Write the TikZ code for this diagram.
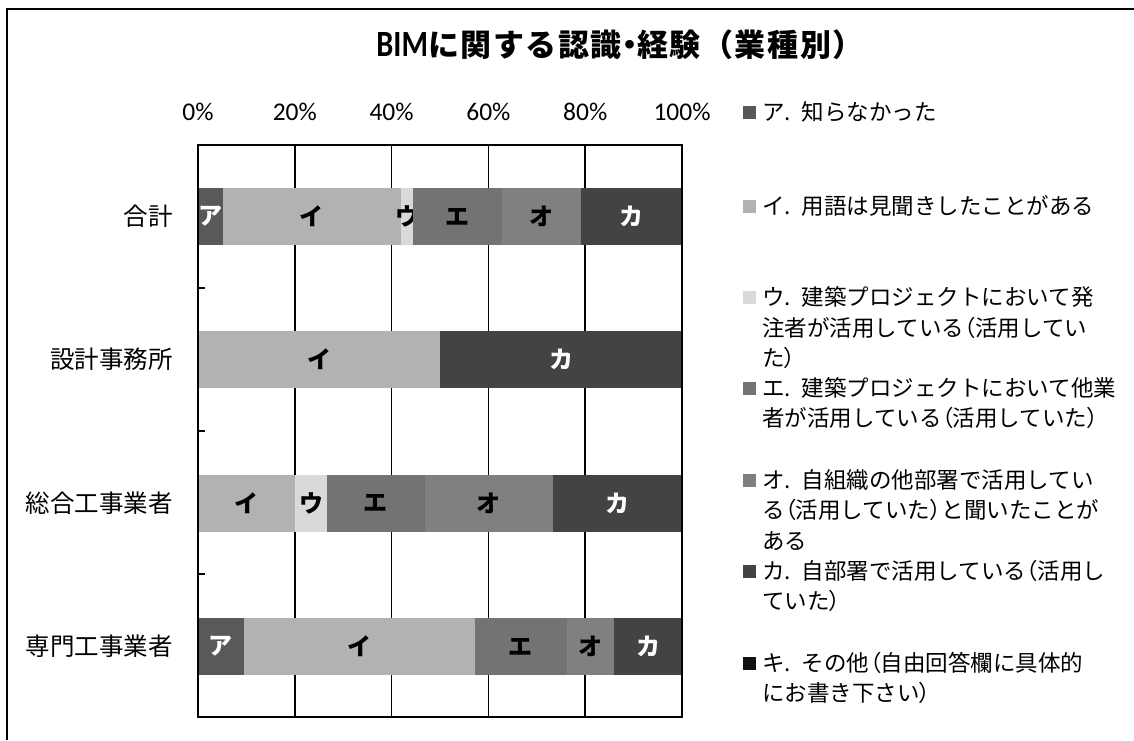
\documentclass[tikz,border=0pt]{standalone}
\usepackage{fontspec}
\newfontfamily\jp{Noto Sans CJK JP}
\newfontfamily\jpt[LetterSpace=5]{Noto Sans CJK JP}
\newfontfamily\jpp[RawFeature=+palt]{Noto Sans CJK JP}
\newfontfamily\carl{Carlito}
\newcommand\lp{{\jpp （}}
\newcommand\rp{{\jpp ）}}
\definecolor{cA}{HTML}{595959}
\definecolor{cI}{HTML}{B2B2B2}
\definecolor{cU}{HTML}{D9D9D9}
\definecolor{cE}{HTML}{737373}
\definecolor{cO}{HTML}{808080}
\definecolor{cK}{HTML}{434343}
\definecolor{cKi}{HTML}{111111}
% \barseg{ycenter}{p0}{p1}{fill}{label}{textcolor}{name}
\newcommand\barseg[7]{%
  \fill[#4] ({198+4.84*#2},{#1-28.5}) rectangle ({198+4.84*#3},{#1+28.5});
  \node[lbl,text=#6] (#7) at ({198+4.84*(#2+#3)/2},#1) {#5};}
\begin{document}
\begin{tikzpicture}[x=1pt,y=-1pt,
  lbl/.style={font=\jp\bfseries\fontsize{24}{24}\selectfont, inner sep=0pt},
  cat/.style={anchor=east, font=\jp\fontsize{24.5}{24.5}\selectfont, inner sep=0pt},
  axl/.style={font=\carl\fontsize{25.5}{25.5}\selectfont, inner sep=0pt},
  leg/.style={anchor=base west, align=left, font=\jp\fontsize{22.5}{30.5}\selectfont, inner sep=0pt},
  sq/.style={minimum size=13pt, inner sep=0pt},
  grid/.style={line width=1.5pt, black},
  frame/.style={line width=2pt, black}
]
\useasboundingbox (0,0) rectangle (1134,740);
\fill[white] (0,0) rectangle (1134,740);
\draw[line width=2.5pt] (1134,9) -- (7,9) -- (7,740);

% title
\node (title) at (620,45) {\bfseries\fontsize{31}{31}\selectfont\scalebox{0.82}[1]{\carl\fontsize{37}{37}\selectfont BIM}\jpt に関する認識{\jpp ・}経験（業種別）};

% axis labels
\foreach \p/\t [count=\i] in {0/0\%,20/20\%,40/40\%,60/60\%,80/80\%,100/100\%}
  \node[axl] (ax\i) at ({198+4.84*\p},112) {\t};

% grid
\foreach \p in {20,40,60,80}
  \draw[grid] ({198+4.84*\p},145) -- ({198+4.84*\p},717);

% bars
\barseg{216.5}{0}{5.2}{cA}{ア}{white}{a1}
\barseg{216.5}{5.2}{41.9}{cI}{イ}{black}{a2}
\barseg{216.5}{41.9}{44.5}{cU}{ウ}{black}{a3}
\barseg{216.5}{44.5}{62.9}{cE}{エ}{black}{a4}
\barseg{216.5}{62.9}{79.1}{cO}{オ}{black}{a5}
\barseg{216.5}{79.1}{100}{cK}{カ}{white}{a6}

\barseg{359.5}{0}{50}{cI}{イ}{black}{b2}
\barseg{359.5}{50}{100}{cK}{カ}{white}{b6}

\barseg{503}{0}{20}{cI}{イ}{black}{c2}
\barseg{503}{20}{26.7}{cU}{ウ}{black}{c3}
\barseg{503}{26.7}{46.8}{cE}{エ}{black}{c4}
\barseg{503}{46.8}{73.4}{cO}{オ}{black}{c5}
\barseg{503}{73.4}{100}{cK}{カ}{white}{c6}

\barseg{646.5}{0}{9.5}{cA}{ア}{white}{d1}
\barseg{646.5}{9.5}{57.2}{cI}{イ}{black}{d2}
\barseg{646.5}{57.2}{76.2}{cE}{エ}{black}{d4}
\barseg{646.5}{76.2}{86}{cO}{オ}{black}{d5}
\barseg{646.5}{86}{100}{cK}{カ}{white}{d6}

% plot frame and ticks
\draw[frame] (198,145) rectangle (682,717);
\foreach \y in {288,431,574}
  \draw[frame] (198,\y) -- (205,\y);

% categories
\node[cat] (k1) at (173,216.5) {合計};
\node[cat] (k2) at (173,359.5) {設計事務所};
\node[cat] (k3) at (173,503) {総合工事業者};
\node[cat] (k4) at (173,646.5) {専門工事業者};

% legend
\foreach \y/\c/\n in {112.5/cA/1,206/cI/2,297.5/cU/3,388/cE/4,480/cO/5,571/cK/6,663/cKi/7}
  \node[sq,fill=\c] (s\n) at (749,\y) {};
\node[leg] (l1) at (762,120.5) {ア.\kern11pt 知らなかった};
\node[leg] (l2) at (762,214) {イ.\kern11pt 用語は見聞きしたことがある};
\node[leg] (l3) at (762,366.5) {ウ.\kern11pt 建築プロジェクトにおいて発\\注者が活用している\lp 活用してい\\た\rp};
\node[leg] (l4) at (762,426.5) {エ.\kern11pt 建築プロジェクトにおいて他業\\者が活用している\lp 活用していた\rp};
\node[leg] (l5) at (762,549) {オ.\kern11pt 自組織の他部署で活用してい\\る\lp 活用していた\rp と聞いたことが\\ある};
\node[leg] (l6) at (762,609.5) {カ.\kern11pt 自部署で活用している\lp 活用し\\ていた\rp};
\node[leg] (l7) at (762,701.5) {キ.\kern11pt その他\lp 自由回答欄に具体的\\にお書き下さい\rp};
\end{tikzpicture}
\end{document}
